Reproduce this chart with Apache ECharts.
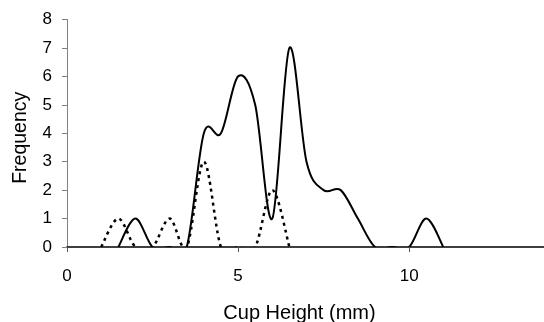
<!DOCTYPE html>
<html>
<head>
<meta charset="utf-8">
<script src="https://cdn.jsdelivr.net/npm/echarts@6/dist/echarts.min.js"></script>
<style>html,body{margin:0;padding:0;background:#fff}#c{width:544px;height:322px}</style>
</head>
<body>
<div id="c"></div>
<script>
// Data
var solidX = [1.5, 2, 2.5, 3, 3.5, 4, 4.5, 5, 5.5, 6, 6.5, 7, 7.5, 8, 8.5, 9, 9.5, 10, 10.5, 11];
var solidY = [0, 1, 0, 0, 0, 4, 4, 6, 5, 1, 7, 3, 2, 2, 1, 0, 0, 0, 1, 0];
var dottedX = [1, 1.5, 2, 2.5, 3, 3.5, 4, 4.5, 5, 5.5, 6, 6.5];
var dottedY = [0, 1, 0, 0, 1, 0, 3, 0, 0, 0, 2, 0];
var xTickValues = [0, 5, 10];
var xAxisTitle = 'Cup Height (mm)';
var yAxisTitle = 'Frequency';

function pairs(xs, ys) { return xs.map(function (x, i) { return [x, ys[i]]; }); }

// Smoothed curve (Catmull-Rom style Bezier, like a spreadsheet "smoothed line"),
// positioned through the chart's own coordinate system via api.coord.
function smoothRenderer(xs, ys, lineStyle) {
  return function (params, api) {
    if (params.dataIndex !== 0) return null;
    var pts = xs.map(function (x, i) { return api.coord([x, ys[i]]); });
    var n = pts.length;
    var d = 'M' + pts[0][0] + ' ' + pts[0][1];
    var t = 1 / 6;
    for (var i = 0; i < n - 1; i++) {
      var p0 = pts[Math.max(i - 1, 0)], p1 = pts[i], p2 = pts[i + 1], p3 = pts[Math.min(i + 2, n - 1)];
      var c1x = p1[0] + (p2[0] - p0[0]) * t, c1y = p1[1] + (p2[1] - p0[1]) * t;
      var c2x = p2[0] - (p3[0] - p1[0]) * t, c2y = p2[1] - (p3[1] - p1[1]) * t;
      d += ' C' + c1x + ' ' + c1y + ' ' + c2x + ' ' + c2y + ' ' + p2[0] + ' ' + p2[1];
    }
    var cs = params.coordSys;
    return {
      type: 'group',
      clipPath: {type: 'rect', shape: {x: cs.x, y: cs.y - 5, width: cs.width, height: cs.height + 5}},
      children: [{
        type: 'path',
        shape: {pathData: d},
        style: Object.assign({fill: null, stroke: '#000'}, lineStyle)
      }]
    };
  };
}

var chart = echarts.init(document.getElementById('c'), null, {renderer: 'canvas'});
var font = '"Liberation Sans", Arial, sans-serif';
chart.setOption({
  animation: false,
  backgroundColor: '#ffffff',
  grid: {left: 67, right: -2, top: 19.5, bottom: 75, containLabel: false, outerBoundsMode: 'none'},
  xAxis: {
    type: 'value', min: 0, max: 14, interval: 5,
    name: xAxisTitle, nameLocation: 'middle', nameGap: 56,
    nameTextStyle: {fontFamily: font, fontSize: 20, color: '#000', padding: [0, 14, 0, 0]},
    axisLine: {show: true, onZero: false, lineStyle: {color: '#000', width: 1.5}},
    axisTick: {show: true, length: 5, customValues: xTickValues, lineStyle: {color: '#555'}},
    axisLabel: {customValues: xTickValues, margin: 21, fontFamily: font, fontSize: 17, color: '#000'},
    splitLine: {show: false}
  },
  yAxis: {
    type: 'value', min: 0, max: 8, interval: 1,
    name: yAxisTitle, nameLocation: 'middle', nameGap: 36,
    nameTextStyle: {fontFamily: font, fontSize: 19.5, color: '#000', padding: [0, 9, 0, 0]},
    axisLine: {show: true, lineStyle: {color: '#808080', width: 1}},
    axisTick: {show: true, length: 5, lineStyle: {color: '#808080'}},
    axisLabel: {margin: 15, fontFamily: font, fontSize: 17, color: '#000'},
    splitLine: {show: false}
  },
  series: [
    {
      type: 'custom', data: pairs(solidX, solidY), z: 3,
      renderItem: smoothRenderer(solidX, solidY, {lineWidth: 2})
    },
    {
      type: 'custom', data: pairs(dottedX, dottedY), z: 2,
      renderItem: smoothRenderer(dottedX, dottedY, {lineWidth: 2.5, lineDash: [3, 4]})
    }
  ]
});
</script>
</body>
</html>
